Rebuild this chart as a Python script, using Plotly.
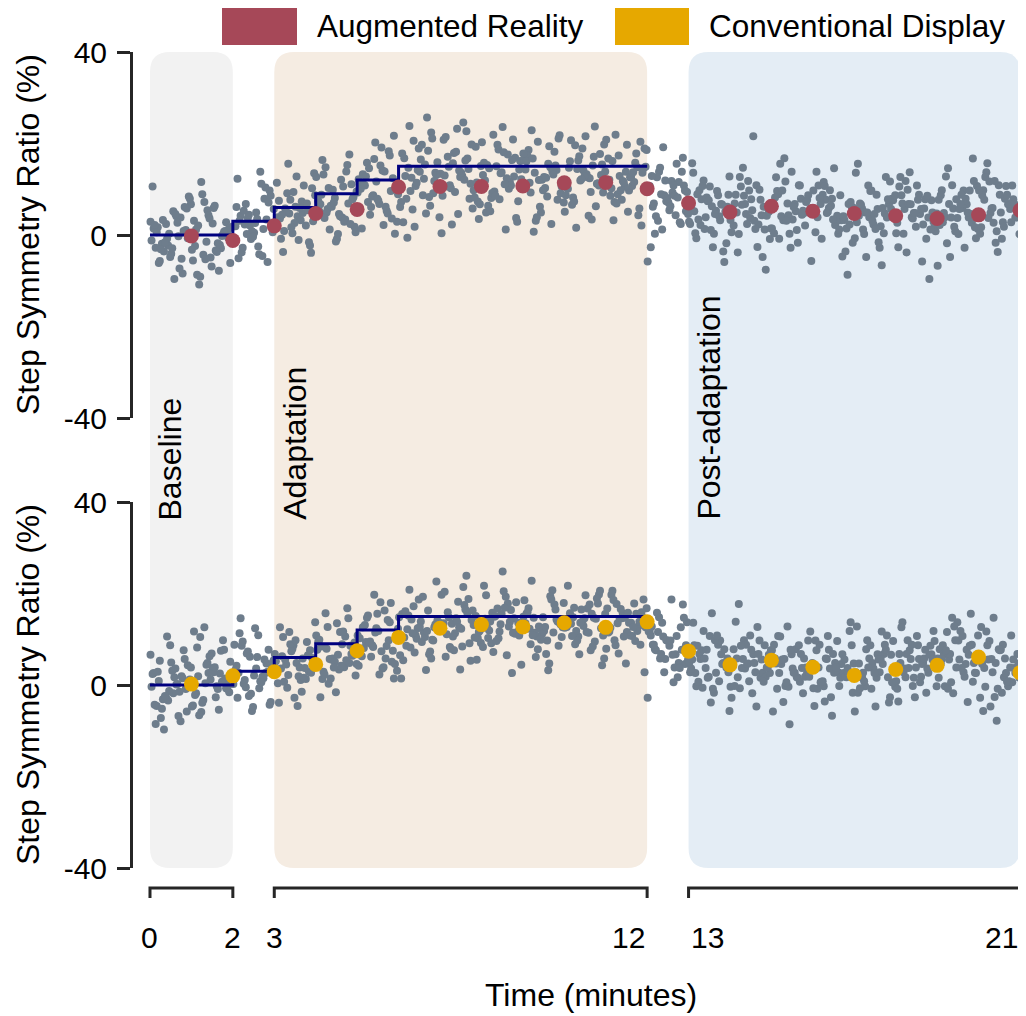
import plotly.graph_objects as go

# ---------------- data ----------------
minutes = list(range(1, 22))
ar_means = [-0.2, -1.2, 2.0, 4.7, 5.6, 10.5, 10.6, 10.6, 10.7, 11.4, 11.5, 10.1,
            7.0, 5.0, 6.3, 5.2, 4.7, 4.2, 3.6, 4.4, 5.4]
cd_means = [0.2, 2.0, 2.9, 4.5, 7.5, 10.4, 12.4, 13.2, 12.7, 13.6, 12.6, 13.8,
            7.4, 4.4, 5.4, 3.9, 2.1, 3.4, 4.3, 6.1, 2.7]
step_edges = [0, 2, 3, 4, 5, 6, 12]
step_levels = [0, 3, 6, 9, 12, 15, 15]
phase_names = ["Baseline", "Adaptation", "Post-adaptation"]
phase_start = [0, 3, 13]
phase_end = [2, 12, 21]
x_ticks = [0, 2, 3, 12, 13, 21]
x_tick_anchor = ["center", "center", "center", "right", "left", "right"]
y_ticks = [-40, 0, 40]

# order in which the 40 steps of each minute fall within that minute
slot_order = [17, 3, 29, 8, 36, 22, 0, 13, 31, 6, 25, 39, 11, 19, 34, 2, 27, 9, 15, 38,
              5, 23, 32, 12, 1, 20, 35, 7, 28, 16, 4, 37, 24, 10, 30, 18, 33, 14, 26, 21]

# individual steps, one list per minute (minute 0..20)
ar_steps = [
    [-2.3, 1.4, 3.8, -6.1, -0.7, 5.2, 2.9, -3.6, -8.4, 0.6, 4.1, 6.7, -1.9, -4.8, 1.1, 10.6, -0.3, -5.7, 2.4, 7.9, -2.8, -9.6, 0.9, 3.3, -1.2, -4.1, 5.8, 1.7, -7.3, -0.8, 2.2, 8.4, 4.6, -3.1, -5.2, 0.3, 6.1, -1.6, 2.7, -2.9],
    [1.8, -4.3, -6.9, 0.4, 3.1, -2.2, 11.6, 5.4, -1.1, -8.7, -3.4, 0.9, 7.2, -5.6, 2.5, -0.6, -10.8, -2.9, 4.3, 1.2, -6.1, -3.7, 8.9, 0.1, -4.9, 2.8, -1.5, -7.8, 5.9, 3.6, -2.4, -0.2, -9.1, 1.5, 6.4, -3.2, -5.3, 0.7, 2.1, -1.8],
    [3.4, 6.8, -1.3, 0.5, 9.7, 4.2, -4.6, 2.1, 12.3, 1.6, -2.5, 5.3, 7.9, 0.8, -5.9, 3.7, 13.8, 2.6, -0.9, 6.1, 1.3, -3.8, 8.6, 4.9, -1.7, 0.2, 10.4, 3.1, -4.2, 5.7, 2.3, -0.4, 7.1, 1.9, 11.2, -2.8, 4.4, 0.6, -5.1, 3.5],
    [5.8, 2.1, 9.4, -1.6, 4.7, 7.3, 12.8, 0.4, 3.9, 6.6, -3.7, 10.2, 4.1, 1.5, 15.6, 6.9, -0.8, 3.2, 8.7, 5.1, 2.6, -2.3, 11.4, 4.8, 0.9, 7.7, 13.5, 3.6, -1.1, 5.4, 9.1, 2.3, 6.2, -3.9, 4.4, 10.8, 1.7, 7.5, 3.0, 5.9],
    [8.3, 4.6, 12.7, 1.2, 6.9, 16.4, 3.8, 9.5, 5.7, -1.4, 11.1, 7.4, 2.9, 14.8, 6.2, 0.6, 8.8, 4.1, 17.6, 10.3, 5.5, -0.9, 7.8, 13.2, 3.4, 9.9, 6.7, 1.8, 12.1, 4.9, 15.3, 8.1, 2.4, 6.4, 10.6, 0.2, 7.1, 5.2, 13.9, 3.7],
    [11.4, 6.2, 15.8, 8.7, 2.9, 13.3, 19.1, 9.6, 4.4, 12.2, 7.5, 21.7, 10.8, 5.3, 16.6, 1.4, 9.9, 14.1, 7.2, 18.3, 11.7, 3.6, 8.4, 13.9, 6.8, 20.2, 10.1, 4.7, 12.8, 0.3, 15.2, 9.3, 6.1, 17.4, 11.0, 2.2, 8.9, 14.6, 7.9, 12.4],
    [13.6, 7.9, 18.4, 10.7, 2.8, 15.9, 12.3, 23.8, 6.4, 14.2, 9.1, 20.6, 4.7, 16.5, 11.4, 17.8, 8.3, -0.6, 13.1, 19.7, 10.2, 5.6, 22.4, 12.9, 15.4, 3.9, 9.6, 18.9, 11.8, 7.2, 25.7, 14.7, 1.8, 10.9, 16.8, 8.7, 21.1, 12.5, 6.1, 13.8],
    [9.4, 16.7, 12.9, 4.6, 20.8, 11.2, 14.9, 7.3, 24.6, 13.4, 17.9, 5.8, 10.6, 22.7, 15.1, 2.3, 12.7, 19.3, 8.6, 14.4, 10.9, 18.2, 6.7, 21.4, 12.1, 9.8, 15.7, 0.4, 13.6, 11.5, 17.1, 7.9, 23.2, 13.0, 3.5, 16.3, 10.2, 19.8, 14.1, 8.2],
    [12.8, 6.4, 17.6, 10.3, 21.9, 13.7, 2.9, 15.8, 11.6, 8.1, 19.7, 12.2, 15.3, 1.2, 16.9, 9.5, 13.1, 23.6, 7.4, 14.6, 10.8, 18.7, 4.9, 16.2, 12.4, 9.2, 20.9, 13.5, 3.7, 15.0, 10.1, 18.1, 7.8, 11.9, 16.4, 5.2, 14.3, 11.1, 20.3, 8.6],
    [11.3, 18.6, 8.4, 14.2, 3.1, 16.4, 12.7, 21.8, 9.3, 13.9, 6.2, 17.3, 10.6, 15.6, 0.7, 18.2, 12.1, 7.7, 20.4, 14.8, 10.3, 4.9, 16.1, 13.2, 22.9, 9.1, 12.5, 17.8, 3.9, 15.2, 11.4, 19.4, 7.1, 13.6, 9.8, 21.1, 14.3, 2.4, 16.7, 12.0],
    [14.7, 9.3, 12.4, 19.6, 6.3, 14.1, 10.8, 17.2, 3.4, 13.3, 18.9, 10.1, 23.7, 8.2, 15.4, 12.6, 5.1, 16.3, 11.2, 20.7, 9.4, 13.9, 1.6, 12.8, 17.7, 10.4, 15.2, 7.3, 11.9, 19.8, 16.1, 4.2, 11.3, 14.4, 8.7, 21.6, 13.1, 6.6, 17.1, 12.2],
    [12.1, 17.8, 7.2, 14.6, 9.7, 20.8, 12.9, 4.3, 16.2, 10.7, 18.6, 8.9, 13.8, 2.1, 16.7, 11.6, 21.9, 7.7, 14.9, 10.2, 12.6, 5.8, 17.4, 11.1, 19.7, 13.6, 3.2, 15.8, 11.8, 8.6, 18.9, 12.7, 6.9, 14.8, 10.6, 20.4, 9.8, 13.7, 5.1, 11.5],
    [13.8, 8.1, 16.9, 10.7, 4.3, 12.6, 19.2, 9.4, 6.2, 11.8, 2.4, 14.7, 9.9, 7.1, 10.8, 0.3, 15.6, 8.7, 12.9, 5.2, 9.3, 3.1, 11.6, 7.4, 13.8, 1.2, 8.6, 5.4, 11.9, -2.7, 8.2, 4.1, 9.7, 6.3, -5.8, 8.9, 2.8, 6.9, 10.8, 4.6],
    [7.8, 2.4, 10.6, 5.1, -0.7, 8.7, 3.9, 13.6, 6.2, 0.3, 9.8, 3.2, 7.4, -3.6, 11.9, 5.3, 1.1, 8.2, 15.7, 4.1, 8.9, -1.8, 6.3, 2.9, 10.7, 6.8, 0.4, 4.6, 12.8, 2.2, 7.6, -5.9, 5.8, 9.6, 3.4, 1.3, 8.8, 5.2, -2.7, 6.6],
    [4.3, 9.7, 1.2, 6.8, -2.6, 5.4, 11.8, 2.1, 7.7, 0.2, 5.9, 21.6, 3.3, 8.6, -4.8, 4.9, 10.9, 1.4, 6.6, 3.7, -7.6, 5.6, 2.3, 12.7, 4.6, -0.9, 8.8, 3.1, 6.2, 14.7, 0.6, 7.8, 4.2, -3.8, 9.9, 2.4, 6.9, 5.1, 1.3, 10.6],
    [6.8, 1.4, 11.7, 4.8, 8.9, -1.7, 5.9, 3.2, 13.8, 7.7, 0.4, 10.8, 4.1, 6.9, -5.7, 9.6, 5.2, 2.1, 16.8, 6.3, 3.4, 8.7, -0.8, 7.9, 4.3, 12.6, 5.8, 1.1, 9.7, 5.3, -2.8, 7.2, 3.1, 10.9, 6.1, 0.3, 8.2, 4.4, 15.6, 5.1],
    [3.2, 8.8, 5.9, -1.7, 10.8, 4.2, 1.4, 7.7, 5.3, 14.6, 2.3, 6.8, -4.7, 9.8, 3.9, 6.2, 0.3, 11.6, 3.3, 7.9, -8.7, 5.1, 8.7, 2.2, 6.4, 13.8, 4.1, -0.8, 7.2, 2.9, 9.7, 4.8, -3.6, 8.1, 1.2, 5.9, 10.7, 3.4, 6.8, 0.6],
    [5.8, 0.4, 9.7, 4.2, 7.6, -2.8, 4.9, 12.7, 2.3, 6.8, 3.9, -6.6, 8.8, 3.1, 15.6, 4.7, 1.2, 7.9, 5.7, -0.7, 10.8, 3.8, 6.6, 1.9, 8.7, -4.8, 4.6, 11.7, 2.8, 5.9, 0.2, 9.6, 3.7, 6.9, -1.6, 7.8, 4.9, 13.6, 1.3, 5.7],
    [2.3, 7.7, 4.8, 10.6, -0.8, 5.7, 2.9, 8.8, 0.4, 13.7, 3.8, 6.9, -5.8, 4.7, 9.9, 1.8, 7.6, -2.7, 5.8, 11.8, 3.9, 0.8, 8.7, 4.6, -9.6, 6.8, 2.7, 10.8, 4.9, 0.3, 7.8, 3.6, 12.7, 1.8, 5.7, -3.8, 8.6, 4.8, 1.2, 6.7],
    [4.8, 9.7, 1.3, 6.8, 3.7, 16.7, 2.2, 7.9, -1.8, 5.8, 10.7, 2.8, 8.8, 4.6, -4.8, 7.7, 0.2, 11.8, 3.9, 6.7, 1.8, 9.8, -0.7, 5.9, 14.6, 3.8, 7.8, 2.7, 10.9, -2.8, 5.7, 0.8, 8.7, 4.9, 12.8, 1.7, 6.8, -6.7, 3.8, 9.7],
    [7.7, 2.8, 10.8, 5.8, 0.3, 8.8, 3.8, 13.7, 6.7, -1.7, 9.8, 4.8, 1.8, 11.7, 5.7, -3.7, 7.8, 2.7, 10.7, 4.9, 0.8, 8.7, 6.8, 15.7, 3.9, -0.8, 9.7, 5.9, 2.8, 12.7, 7.9, 0.2, 4.8, 10.9, 6.8, 1.7, 8.8, 3.7, 11.8, 5.8],
]

cd_steps = [
    [-3.4, 2.6, -7.9, 0.9, 4.3, -1.8, 6.6, -9.7, 1.5, -4.6, 0.1, 3.8, -5.2, 8.7, -0.9, 2.4, -6.8, 5.3, -2.7, 1.2, -8.5, 1.7, 7.6, -3.1, -0.4, 4.9, -5.8, 2.9, -1.5, 10.6, -4.3, 0.8, 3.6, -7.2, 1.9, -1.3, 5.7, -2.4, 0.2, 3.1],
    [1.6, -3.3, 6.9, -0.8, 11.7, 2.5, -5.9, 4.8, 0.3, 8.2, -2.7, 1.4, 12.6, -4.5, 3.7, 0.9, -6.6, 7.5, 2.6, -1.8, 5.1, -0.3, -3.9, 9.8, 1.2, -0.7, 4.4, -5.4, 2.8, 6.3, -2.2, 0.7, 10.5, -1.6, 3.9, -4.7, 0.4, 7.7, 1.9, -0.9],
    [4.7, -0.5, 8.8, 2.1, -4.3, 14.6, 1.8, 6.2, -2.8, 3.5, 10.9, 0.3, 5.6, -5.7, 2.9, 7.3, 0.8, 12.4, -1.9, 4.2, 1.5, 8.6, -3.7, 3.6, 0.2, 6.9, 2.6, 11.3, -0.7, 5.4, 1.1, -4.8, 7.7, 3.3, 0.6, 9.5, -2.4, 4.9, 2.7, 6.1],
    [5.6, 1.3, 8.7, 2.9, 11.6, -1.5, 4.8, 7.9, 0.4, 3.7, 10.5, 5.9, -4.6, 6.8, 2.2, 9.4, 3.6, 1.1, 13.7, 4.5, -2.8, 7.6, 3.1, 5.8, 0.7, 8.9, 4.3, 12.6, 1.9, 6.5, -0.6, 5.2, 9.8, 2.7, 6.3, 1.6, 7.4, -3.9, 4.9, 3.8],
    [7.6, 3.4, 10.8, 5.7, 14.6, 1.3, 8.9, 4.6, 12.7, -1.6, 6.8, 9.5, 3.9, 15.7, 5.5, 2.1, 8.4, 11.6, 4.8, 0.3, 7.7, 13.5, 6.4, 2.9, 10.6, 5.8, -2.7, 9.3, 4.2, 7.9, 16.8, 5.1, 8.6, 1.4, 11.7, 6.6, 3.8, 9.9, 5.4, 2.3],
    [10.2, 5.8, 14.7, 8.3, 3.1, 12.6, 7.4, 17.9, 9.5, 4.2, 11.8, 1.4, 13.1, 8.5, 19.7, 6.3, 10.7, 3.6, 15.2, 9.8, 12.4, 5.1, 8.7, 16.3, 2.3, 11.5, 7.9, 14.2, 9.4, 4.6, 18.1, 10.8, 6.2, 13.7, 8.1, 3.9, 12.3, 9.2, 15.6, 7.5],
    [13.2, 8.6, 16.3, 10.9, 5.4, 14.1, 11.5, 20.8, 7.3, 12.4, 9.7, 17.2, 3.3, 13.9, 10.1, 15.5, 6.7, 12.2, 22.6, 9.4, 14.8, 11.3, 5.8, 16.1, 10.5, 13.6, 8.2, 18.7, 12.6, 1.4, 11.8, 15.2, 7.1, 13.5, 10.4, 19.3, 9.9, 14.3, 6.5, 12.7],
    [11.3, 15.7, 8.4, 18.2, 13.5, 5.3, 14.8, 10.2, 21.4, 12.7, 7.6, 16.3, 11.1, 23.9, 9.2, 13.4, 3.4, 15.1, 12.5, 18.8, 8.3, 14.6, 11.9, 6.2, 17.5, 13.1, 10.6, 19.7, 12.3, 5.5, 15.9, 9.1, 13.8, 20.4, 11.6, 16.5, 7.9, 14.2, 12.6, 10.4],
    [14.6, 10.3, 17.8, 12.9, 7.2, 15.5, 11.6, 21.7, 13.8, 9.1, 16.7, 4.4, 12.5, 19.3, 11.2, 14.9, 8.3, 24.8, 13.6, 11.9, 16.4, 10.2, 19.6, 12.7, 6.5, 15.8, 11.4, 13.3, 18.1, 9.6, 12.8, 20.5, 11.7, 14.5, 2.6, 13.9, 10.8, 16.9, 12.4, 15.1],
    [12.6, 16.8, 9.7, 14.3, 6.1, 18.5, 11.8, 13.6, 8.9, 20.7, 12.4, 15.9, 10.5, 3.2, 14.7, 17.6, 11.1, 13.9, 7.8, 19.4, 12.7, 9.9, 15.6, 11.5, 22.8, 13.2, 6.8, 14.9, 10.6, 16.5, 12.3, 4.7, 17.9, 11.4, 14.8, 8.6, 13.5, 18.7, 10.9, 12.8],
    [13.7, 10.8, 17.6, 8.9, 14.5, 12.9, 19.8, 6.7, 15.6, 11.6, 13.9, 21.7, 9.5, 14.8, 4.3, 16.7, 12.5, 10.6, 18.9, 13.4, 7.6, 15.5, 11.8, 14.6, 20.6, 12.7, 8.4, 16.9, 13.6, 5.8, 15.7, 11.4, 17.8, 9.7, 13.5, 19.6, 12.4, 10.7, 14.7, 16.5],
    [11.7, 15.6, 9.8, 18.7, 13.6, 7.9, 14.5, 12.8, 20.6, 10.7, 16.8, 13.5, 4.7, 15.9, 11.5, 17.8, 8.7, 14.6, 12.6, 19.7, 10.8, 13.8, 6.9, 16.7, 11.6, 14.8, 18.6, 9.6, 15.7, 12.5, 2.8, 13.6, 17.7, 11.8, 14.7, 8.8, 16.6, 12.7, 15.8, 10.6],
    [14.8, 9.7, 17.6, 11.8, 6.7, 15.8, 10.6, 13.7, 8.8, 18.7, 12.6, 5.8, 11.7, 9.6, 14.7, 7.8, 10.7, 2.8, 12.8, 8.7, 6.6, 11.6, 4.8, 9.8, 7.7, 13.6, 3.8, 8.6, 5.7, 10.8, 1.7, 7.6, 4.6, 9.7, -2.8, 6.8, 3.7, 8.8, 0.6, 5.6],
    [7.6, 2.8, 10.7, 4.6, -0.3, 8.8, 3.7, 13.6, 5.8, -1.7, 6.8, 9.7, 1.6, 4.8, 11.8, 2.7, -3.8, 7.7, 5.6, 0.8, 8.6, 3.8, 15.7, 4.7, -0.6, 6.7, 2.6, 9.8, -5.7, 5.7, 1.8, 7.8, 3.6, 10.8, 0.7, 5.8, 2.8, 8.7, -0.8, 4.6],
    [5.6, 0.8, 8.7, 3.6, 12.7, -1.8, 4.7, 7.8, 1.6, 17.7, 3.8, 6.7, -0.4, 9.8, 2.7, 5.8, -4.7, 7.6, 3.7, 10.8, 1.8, 4.6, 6.8, -0.7, 8.8, 2.6, 13.8, 4.8, 0.7, 5.7, -2.8, 7.7, 3.8, 1.7, 9.7, 4.6, -0.2, 6.6, 2.8, 8.6],
    [2.7, 7.6, -0.2, 5.8, 10.7, 1.6, 4.8, -3.7, 6.7, 2.8, 8.8, 0.7, 4.6, 12.8, 3.7, -0.8, 7.8, 1.8, 5.7, -5.8, 3.6, 9.7, 2.6, 6.8, -0.4, 4.7, 11.7, 1.7, 5.6, -1.8, 7.7, 3.8, 0.6, 8.7, 2.7, -8.6, 5.8, 3.7, 10.6, 1.8],
    [4.6, 0.8, 7.7, -1.7, 3.8, 9.6, 1.7, 5.8, -4.6, 2.7, 11.8, 0.6, 6.7, 3.6, -0.8, 8.7, 2.8, -0.3, 5.6, -6.7, 3.7, 10.7, 1.6, 4.8, -2.7, 7.6, 2.6, 0.7, 13.7, 3.8, -0.7, 5.7, 1.8, 8.8, -0.2, 4.7, -3.6, 6.8, 2.7, 9.7],
    [1.7, 6.8, -0.8, 4.7, 9.6, 2.8, -0.3, 7.7, 3.6, -3.8, 5.8, 11.7, 1.6, 4.8, -1.7, 8.8, 2.7, 0.6, 6.7, -5.8, 3.8, 10.8, 1.8, 5.7, -0.4, 7.8, 2.6, -2.7, 12.8, 4.6, 0.8, 8.7, 3.7, -0.7, 5.6, 1.7, 9.8, 2.8, -4.7, 6.6],
    [4.8, 8.7, 1.6, 6.8, -1.7, 3.6, 11.8, 5.7, 0.8, 7.6, 2.7, 13.7, 4.6, -0.3, 9.8, 3.8, 6.7, -3.6, 5.8, 1.7, 8.8, 4.7, 12.6, 0.6, 6.6, 3.7, -0.8, 10.7, 5.6, 2.8, 7.7, -0.2, 4.8, 9.6, 1.8, 6.8, 3.6, -2.7, 8.6, 5.7],
    [6.7, 2.8, 10.8, 5.6, 13.7, 0.7, 7.8, 4.6, 11.6, -1.8, 5.8, 8.7, 3.7, 15.6, 6.8, 1.6, 9.7, 4.8, -0.3, 7.7, 12.8, 5.7, 2.6, 10.7, -0.8, 6.6, 3.8, 8.8, 14.7, 1.8, 5.6, 9.8, 4.7, -3.7, 7.6, 2.7, 11.8, 5.8, 0.6, 8.6],
    [3.7, 8.8, 0.6, 5.7, -2.8, 7.6, 2.7, 11.7, -0.3, 4.8, -5.7, 6.8, 1.7, 9.6, 3.8, -0.8, 5.6, 14.7, 2.6, 7.7, -7.8, 4.6, 0.8, 8.7, 3.6, -1.7, 6.7, 2.8, 10.8, -0.4, 5.8, 1.6, -4.7, 7.8, 3.7, 12.7, 0.7, 5.6, -2.6, 4.7],
]

# ---------------- style ----------------
FONT = "Liberation Sans, Arial, sans-serif"
AR_COLOR = "#A64858"
CD_COLOR = "#E6A800"
DOT_COLOR = "#6E7D8C"
STEP_COLOR = "#00007F"
AXIS_COLOR = "#262626"
PHASE_COLORS = ["#F2F2F2", "#F5ECE2", "#E4EDF5"]
TXT = 32
LEG = 31.5
PHASE_TXT = 32
TICK = 30

# page has an 8px body margin; figure sized so it ends at the window edge
OFF = 8
W, H = 1026 - OFF, 1016 - OFF
PLOT_L, PLOT_R, PLOT_T, PLOT_B = 133, 1026, 52, 868   # screenshot pixels
ML, MR, MT, MB = PLOT_L - OFF, 0, PLOT_T - OFF, H - (PLOT_B - OFF)
PW, PH = PLOT_R - PLOT_L, PLOT_B - PLOT_T
X_RANGE = [-0.41, 21.145]
PX_PER_MIN = PW / (X_RANGE[1] - X_RANGE[0])


def px_x(px):
    return (px - PLOT_L) / PW


def px_y(py):
    return (PLOT_B - py) / PH


top_dom = [px_y(418), 1.0]
bot_dom = [0.0, px_y(502)]

fig = go.Figure()


def add_panel(steps, means, mcolor, xa, ya):
    xs, ys = [], []
    for m, vals in enumerate(steps):
        n = len(vals)
        for i, v in enumerate(vals):
            slot = slot_order[(i + 11 * m) % n]
            xs.append(m + (slot + 0.5) / n)
            ys.append(v)
    fig.add_trace(go.Scatter(x=xs, y=ys, mode="markers", xaxis=xa, yaxis=ya,
                             marker=dict(size=8, color=DOT_COLOR), showlegend=False,
                             hoverinfo="skip"))
    fig.add_trace(go.Scatter(x=step_edges, y=step_levels, mode="lines", xaxis=xa, yaxis=ya,
                             line=dict(color=STEP_COLOR, width=3, shape="hv"),
                             showlegend=False))
    fig.add_trace(go.Scatter(x=minutes, y=means, mode="markers", xaxis=xa, yaxis=ya,
                             marker=dict(size=15, color=mcolor), showlegend=False,
                             cliponaxis=False))


add_panel(ar_steps, ar_means, AR_COLOR, "x", "y")
add_panel(cd_steps, cd_means, CD_COLOR, "x2", "y2")

shapes = []
annotations = []

# rounded phase backgrounds spanning both panels
r_px = 20
rx = r_px / PX_PER_MIN
ry = r_px / PH
for x0, x1, col in zip(phase_start, phase_end, PHASE_COLORS):
    y0, y1 = 0.0, 1.0
    path = (f"M {x0 + rx},{y0} L {x1 - rx},{y0} Q {x1},{y0} {x1},{y0 + ry} "
            f"L {x1},{y1 - ry} Q {x1},{y1} {x1 - rx},{y1} "
            f"L {x0 + rx},{y1} Q {x0},{y1} {x0},{y1 - ry} "
            f"L {x0},{y0 + ry} Q {x0},{y0} {x0 + rx},{y0} Z")
    shapes.append(dict(type="path", path=path, xref="x2", yref="paper",
                       fillcolor=col, line=dict(width=0), layer="below"))

# bracket-style x axis segments
yl = px_y(888)
yt = px_y(898)
for x0, x1 in zip(phase_start, phase_end):
    shapes.append(dict(type="path", xref="x2", yref="paper",
                       path=f"M {x0},{yt} L {x0},{yl} L {x1},{yl} L {x1},{yt}",
                       line=dict(color=AXIS_COLOR, width=3)))

# x tick labels
for v, anc in zip(x_ticks, x_tick_anchor):
    annotations.append(dict(text=str(v), x=v, xref="x2", y=px_y(938), yref="paper",
                            xanchor=anc, yanchor="middle", showarrow=False,
                            font=dict(family=FONT, size=TICK, color="#000")))

# phase labels
for name, x0 in zip(phase_names, phase_start):
    annotations.append(dict(text=name, x=x0, xref="x2", y=px_y(522), yref="paper",
                            xanchor="left", yanchor="bottom", textangle=-90,
                            xshift=0, showarrow=False,
                            font=dict(family=FONT, size=PHASE_TXT, color="#000")))

# y axis titles
for cy in (235, 685):
    annotations.append(dict(text="Step Symmetry Ratio (%)", x=px_x(28), y=px_y(cy),
                            xref="paper", yref="paper", textangle=-90, showarrow=False,
                            xanchor="center", yanchor="middle",
                            font=dict(family=FONT, size=TXT, color="#000")))

# x axis title
annotations.append(dict(text="Time (minutes)", x=px_x(591), y=px_y(995), xref="paper",
                        yref="paper", showarrow=False, xanchor="center", yanchor="middle",
                        font=dict(family=FONT, size=TXT, color="#000")))

# manual legend
legend_items = [("Augmented Reality", AR_COLOR, 222, 297), ("Conventional Display", CD_COLOR, 615, 689)]
for label, col, lx0, lx1 in legend_items:
    shapes.append(dict(type="rect", xref="paper", yref="paper",
                       x0=px_x(lx0), x1=px_x(lx1), y0=px_y(45), y1=px_y(8),
                       fillcolor=col, line=dict(width=0)))
    annotations.append(dict(text=label, x=px_x(lx1 + 18), y=px_y(26), xref="paper",
                            yref="paper", xanchor="left", yanchor="middle", showarrow=False,
                            font=dict(family=FONT, size=LEG, color="#000")))

yaxis_common = dict(range=[-40, 40], tickvals=y_ticks, ticktext=[str(v) for v in y_ticks],
                    showgrid=False, zeroline=False, showline=True, linewidth=3,
                    linecolor=AXIS_COLOR, ticks="outside", ticklen=13, tickwidth=3,
                    tickcolor=AXIS_COLOR, ticklabelstandoff=4,
                    tickfont=dict(family=FONT, size=TICK, color="#000"))
xaxis_common = dict(range=X_RANGE, showgrid=False, zeroline=False, showline=False,
                    showticklabels=False, ticks="")

fig.update_layout(
    width=W, height=H,
    margin=dict(l=ML, r=MR, t=MT, b=MB, pad=0),
    paper_bgcolor="white", plot_bgcolor="rgba(0,0,0,0)",
    xaxis=dict(**xaxis_common, anchor="y"),
    xaxis2=dict(**xaxis_common, anchor="y2"),
    yaxis=dict(**yaxis_common, domain=top_dom, anchor="x"),
    yaxis2=dict(**yaxis_common, domain=bot_dom, anchor="x2"),
    shapes=shapes, annotations=annotations, showlegend=False,
)

fig.write_html("out.html")
